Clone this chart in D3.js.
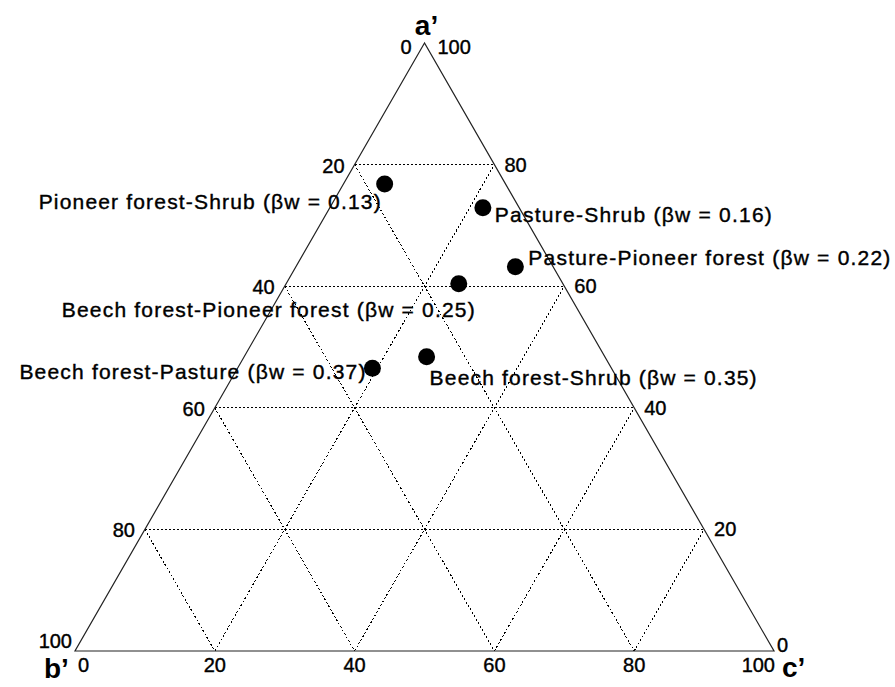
<!DOCTYPE html>
<html>
<head>
<meta charset="utf-8">
<script src="https://cdn.jsdelivr.net/npm/d3@7"></script>
<style>
  body { margin: 0; background: #fff; }
  svg { display: block; }
</style>
</head>
<body>
<script>
// ternary data, percent of a', b', c'
const pairs = [
  "Pioneer forest-Shrub",
  "Pasture-Shrub",
  "Pasture-Pioneer forest",
  "Beech forest-Pioneer forest",
  "Beech forest-Shrub",
  "Beech forest-Pasture"
];
const betaW = [0.13, 0.16, 0.22, 0.25, 0.35, 0.37];
const aVals = [76.8, 72.9, 63.2, 60.4, 48.4, 46.5];
const bVals = [17.3, 5.2, 5.4, 14.9, 25.5, 34.2];
const cVals = [5.9, 21.9, 31.4, 24.7, 26.1, 19.3];

const tickVals = [0, 20, 40, 60, 80, 100];
const gridVals = [20, 40, 60, 80];
const axisNames = ["a\u2019", "b\u2019", "c\u2019"];

// label placement relative to each point (layout only)
const labelLayout = [
  { anchor: "end",   dx: -4,  dy: 17, w: 342 },
  { anchor: "start", dx: 12,  dy: 7,  w: 277 },
  { anchor: "start", dx: 13,  dy: -9, w: 362 },
  { anchor: "end",   dx: 16,  dy: 26, w: 413 },
  { anchor: "start", dx: 3,   dy: 21, w: 327 },
  { anchor: "end",   dx: -7,  dy: 3,  w: 346 }
];

const WIDTH = 895;
const HEIGHT = 687;
const FONT = "'Liberation Sans', Arial, Helvetica, sans-serif";

// x scale takes (c + a/2), y scale takes a
const xScale = d3.scaleLinear().domain([0, 100]).range([75, 774]);
const yScale = d3.scaleLinear().domain([0, 100]).range([651, 43]);

function project(a, b, c) {
  const s = a + b + c;
  a = a * 100 / s; c = c * 100 / s;
  return [xScale(c + a / 2), yScale(a)];
}

const svg = d3.select("body").append("svg")
  .attr("width", WIDTH)
  .attr("height", HEIGHT);

// dotted grid lines
const grid = [];
gridVals.forEach(v => {
  grid.push([project(v, 100 - v, 0), project(v, 0, 100 - v)]);   // a const
  grid.push([project(100 - v, v, 0), project(0, v, 100 - v)]);   // b const
  grid.push([project(0, 100 - v, v), project(100 - v, 0, v)]);   // c const
});
svg.append("g").selectAll("line")
  .data(grid)
  .enter()
  .append("line")
  .attr("x1", d => d[0][0]).attr("y1", d => d[0][1])
  .attr("x2", d => d[1][0]).attr("y2", d => d[1][1])
  .attr("stroke", "#000")
  .attr("stroke-width", 1)
  .attr("stroke-dasharray", "2,2")
  .attr("shape-rendering", "crispEdges");

// triangle outline
const corners = [project(100, 0, 0), project(0, 100, 0), project(0, 0, 100)];
svg.append("path")
  .attr("d", d3.line()(corners) + "Z")
  .attr("fill", "none")
  .attr("stroke", "#222")
  .attr("stroke-width", 1.2);

// tick labels
const tickG = svg.append("g")
  .attr("font-family", FONT)
  .attr("font-size", "20px")
  .attr("dominant-baseline", "central")
  .attr("stroke", "#000")
  .attr("stroke-width", 0.4);

// left edge: b' (0 at top, 100 at bottom-left)
tickG.selectAll(".tl").data(tickVals).enter().append("text")
  .attr("class", "tl")
  .attr("text-anchor", "end")
  .attr("x", v => project(100 - v, v, 0)[0] + (v === 0 ? -13 : v === 100 ? -3 : -10))
  .attr("y", v => project(100 - v, v, 0)[1] + (v === 0 ? 4 : v === 100 ? -10 : 1))
  .text(v => v);

// right edge: a' (100 at top, 0 at bottom-right)
tickG.selectAll(".tr").data(tickVals).enter().append("text")
  .attr("class", "tr")
  .attr("text-anchor", "start")
  .attr("x", v => project(v, 0, 100 - v)[0] + (v === 100 ? 13 : v === 0 ? 3 : 10))
  .attr("y", v => project(v, 0, 100 - v)[1] + (v === 100 ? 4 : v === 0 ? -6 : 0))
  .text(v => v);

// bottom edge: c'
tickG.selectAll(".tb").data(tickVals).enter().append("text")
  .attr("class", "tb")
  .attr("text-anchor", v => v === 0 ? "start" : v === 100 ? "end" : "middle")
  .attr("x", v => project(0, 100 - v, v)[0] + (v === 0 ? 3 : v === 100 ? 1 : 0))
  .attr("y", v => project(0, 100 - v, v)[1] + 14)
  .text(v => v);

// axis names
const nameG = svg.append("g")
  .attr("font-family", FONT)
  .attr("font-size", "28px")
  .attr("font-weight", "bold");
nameG.append("text").attr("x", corners[0][0] + 2).attr("y", corners[0][1] - 8)
  .attr("text-anchor", "middle").text(axisNames[0]);
nameG.append("text").attr("x", corners[1][0] - 31).attr("y", corners[1][1] + 27)
  .attr("text-anchor", "start").text(axisNames[1]);
nameG.append("text").attr("x", corners[2][0] + 8).attr("y", corners[2][1] + 26)
  .attr("text-anchor", "start").text(axisNames[2]);

// points
const pts = pairs.map((p, i) => project(aVals[i], bVals[i], cVals[i]));
svg.append("g").selectAll("circle")
  .data(pts)
  .enter()
  .append("circle")
  .attr("cx", d => d[0])
  .attr("cy", d => d[1])
  .attr("r", 8.5)
  .attr("fill", "#000");

// point labels
svg.append("g")
  .attr("font-family", FONT)
  .attr("font-size", "21px")
  .attr("dominant-baseline", "central")
  .attr("stroke", "#000")
  .attr("stroke-width", 0.4)
  .selectAll("text")
  .data(pairs)
  .enter()
  .append("text")
  .attr("text-anchor", (d, i) => labelLayout[i].anchor)
  .attr("x", (d, i) => pts[i][0] + labelLayout[i].dx)
  .attr("y", (d, i) => pts[i][1] + labelLayout[i].dy)
  .attr("textLength", (d, i) => labelLayout[i].w)
  .attr("lengthAdjust", "spacing")
  .text((d, i) => `${d} (\u03b2w = ${betaW[i].toFixed(2)})`);
</script>
</body>
</html>
